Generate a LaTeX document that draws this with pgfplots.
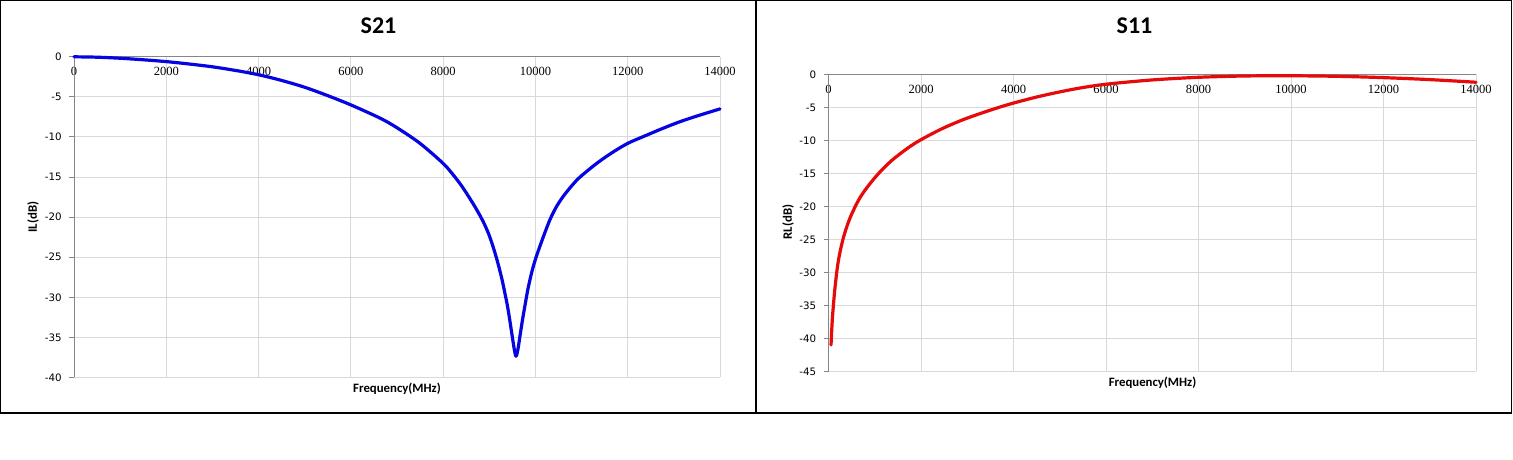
\documentclass[border=0pt]{standalone}
\usepackage{pgfplots}
\pgfplotsset{compat=1.18}
\usepackage{fontspec}
\setmainfont{Carlito}
\newfontfamily\ytickfont{DejaVu Sans}
\newfontfamily\xtickfont{Liberation Serif}
\definecolor{axgray}{RGB}{134,134,134}
\definecolor{gridgray}{RGB}{217,217,217}
\definecolor{sblue}{RGB}{5,5,225}
\definecolor{sred}{RGB}{230,10,10}

\pgfplotstableread{
f db
0 0
500 -0.05
1000 -0.18
1500 -0.37
2000 -0.6
2500 -0.9
3000 -1.25
3500 -1.7
4000 -2.24
4500 -2.95
5000 -3.8
5500 -4.85
6000 -6.0
6632 -7.65
7000 -8.85
7499 -10.8
8000 -13.3
8221 -14.75
8400 -16.1
8582 -17.7
8730 -19.1
8871 -20.6
8990 -22.15
9088 -23.8
9180 -25.6
9269 -27.6
9335 -29.4
9391 -31.0
9440 -32.7
9485 -34.4
9525 -35.9
9555 -36.9
9579 -37.35
9605 -36.95
9635 -36.0
9666 -34.8
9720 -32.8
9774 -31.0
9840 -28.9
9919 -26.9
10000 -25.25
10099 -23.6
10207 -21.9
10316 -20.3
10450 -18.75
10604 -17.4
10800 -16.0
10966 -15.0
11327 -13.3
11650 -12.0
12000 -10.8
12400 -9.8
12772 -8.9
13130 -8.1
13494 -7.4
14000 -6.5
}\sparamtwoone

\pgfplotstableread{
f db
54 -41.0
70 -38.6
90 -36.3
140 -32.3
211 -28.3
319 -24.8
462 -21.8
650 -19.05
826 -17.2
1078 -15.05
1367 -13.05
1728 -11.1
2000 -9.9
2450 -8.25
2954 -6.75
3532 -5.35
4000 -4.35
4614 -3.25
5335 -2.2
6000 -1.5
7000 -0.85
8000 -0.45
9000 -0.25
10000 -0.22
11000 -0.3
12000 -0.5
13000 -0.8
14000 -1.2
}\sparamoneone

\pgfplotsset{
  sparam/.style={
    scale only axis,
    xmin=0, xmax=14000,
    xtick={0,2000,...,14000},
    scaled x ticks=false,
    scaled y ticks=false,
    grid=major,
    major grid style={draw=gridgray, line width=0.75pt},
    axis line style={draw=none},
    xticklabel pos=upper,
    ytick pos=left,
    tick align=outside,
    major tick length=3.75pt,
    xtick style={draw=none},
    ytick style={draw=axgray, line width=0.75pt},
    /pgf/number format/assume math mode=true,
    /pgf/number format/1000 sep={},
    xticklabel style={font=\xtickfont\fontsize{9.4}{10}\selectfont, anchor=center, yshift=-14.8pt},
    yticklabel style={font=\ytickfont\fontsize{7.7}{9}\selectfont, xshift=-2pt},
    clip=false,
  }
}

\begin{document}
\begin{tikzpicture}
\useasboundingbox (0,0) rectangle (1134.75pt,345pt);
\fill[white] (0,0) rectangle (1134.75pt,345pt);
\draw[line width=1.1pt] (0.55pt,35.4pt) rectangle (567pt,344.45pt);
\draw[line width=1.1pt] (567pt,35.4pt) rectangle (1133.6pt,344.45pt);

\begin{axis}[sparam,
  at={(55.5pt,61.9pt)}, anchor=south west,
  width=484.5pt, height=240.5pt,
  ymin=-40, ymax=0, ytick={-40,-35,...,0}]
  \draw[axgray, line width=0.75pt] (rel axis cs:0,0) -- (rel axis cs:0,1) -- (rel axis cs:1,1);
  \addplot[sblue, line width=2.4pt, smooth, tension=0.5, line join=round, line cap=round] table[x=f,y=db] {\sparamtwoone};
\end{axis}

\begin{axis}[sparam,
  at={(621.4pt,66.5pt)}, anchor=south west,
  width=485.6pt, height=222.75pt,
  ymin=-45, ymax=0, ytick={-45,-40,...,0}]
  \draw[axgray, line width=0.75pt] (rel axis cs:0,0) -- (rel axis cs:0,1) -- (rel axis cs:1,1);
  \addplot[sred, line width=2.4pt, smooth, tension=0.5, line join=round, line cap=round] table[x=f,y=db] {\sparamoneone};
\end{axis}

\node[font=\bfseries\fontsize{18}{20}\selectfont] at (283.9pt,325.5pt) {S21};
\node[font=\bfseries\fontsize{18}{20}\selectfont] at (850.9pt,325.5pt) {S11};
\node[font=\bfseries\fontsize{9.6}{11}\selectfont] at (297.75pt,53.25pt) {Frequency(MHz)};
\node[font=\bfseries\fontsize{9.6}{11}\selectfont] at (864.4pt,58.3pt) {Frequency(MHz)};
\node[font=\bfseries\fontsize{9.6}{11}\selectfont, rotate=90] at (24.75pt,182.25pt) {IL(dB)};
\node[font=\bfseries\fontsize{9.6}{11}\selectfont, rotate=90] at (591pt,178.5pt) {RL(dB)};
\end{tikzpicture}
\end{document}
